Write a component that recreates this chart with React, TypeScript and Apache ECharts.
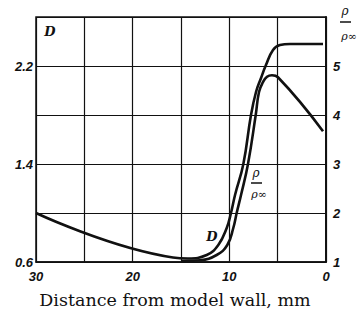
import React, { useEffect, useRef } from "react";
import * as echarts from "echarts";

// Curve D (left axis)
const distD = [30, 15.83, 14.28, 12.34, 11.14, 10.27, 9.83, 9.41, 8.55, 7.76, 7.24, 6.72, 6.21, 5.48, 4.76, 3.72, 0.31];
const valD = [1.0, 0.637, 0.629, 0.657, 0.739, 0.878, 1.0, 1.147, 1.4, 1.8, 1.988, 2.102, 2.208, 2.331, 2.371, 2.38, 2.38];

// Curve rho/rho_inf (right axis)
const distR = [15.0, 13.03, 11.31, 10.21, 9.59, 9.24, 8.79, 8.07, 7.27, 6.93, 6.52, 6.1, 5.59, 4.97, 0.31];
const valR = [1.02, 1.035, 1.143, 1.347, 1.694, 2.0, 2.367, 3.0, 4.0, 4.47, 4.67, 4.78, 4.81, 4.77, 3.67];

const xTickLabels = [0, 10, 20, 30];
const leftTickLabels = [0.6, 1.4, 2.2];
const rightTickLabels = [1, 2, 3, 4, 5];

const tickFont = {
  fontFamily: "'Liberation Sans', sans-serif",
  fontStyle: "italic" as const,
  fontWeight: "bold" as const,
  fontSize: 13,
  color: "#111",
};

const has = (arr: number[], v: number) => arr.some((a) => Math.abs(a - v) < 1e-6);

export default function App() {
  const ref = useRef<HTMLDivElement>(null);
  useEffect(() => {
    if (!ref.current) return;
    const chart = echarts.init(ref.current, undefined, { renderer: "svg" });
    const labelStyle = (text: string, x: number, y: number, size = 13, bold = true) => ({
      type: "text",
      x,
      y,
      style: {
        text,
        fontFamily: "'DejaVu Serif', serif",
        fontStyle: "italic",
        fontWeight: bold ? "bold" : "normal",
        fontSize: size,
        fill: "#111",
        textAlign: "center",
        textVerticalAlign: "middle",
      },
    });
    chart.setOption({
      animation: false,
      backgroundColor: "#fff",
      grid: {
        left: 36,
        right: 36,
        top: 17,
        bottom: 59,
        show: true,
        borderColor: "#111",
        borderWidth: 1.5,
        backgroundColor: "transparent",
      },
      xAxis: {
        type: "value",
        min: 0,
        max: 30,
        interval: 5,
        inverse: true,
        axisLine: { show: true, lineStyle: { color: "#111", width: 1.5 } },
        axisTick: { show: false },
        splitLine: { show: true, lineStyle: { color: "#111", width: 1.2 } },
        axisLabel: {
          ...tickFont,
          margin: 8,
          formatter: (v: number) => (has(xTickLabels, v) ? String(v) : ""),
        },
      },
      yAxis: [
        {
          type: "value",
          min: 0.6,
          max: 2.6,
          interval: 0.4,
          position: "left",
          axisLine: { show: true, lineStyle: { color: "#111", width: 1.5 } },
          axisTick: { show: false },
          splitLine: { show: false },
          axisLabel: {
            ...tickFont,
            margin: 3,
            formatter: (v: number) => (has(leftTickLabels, v) ? v.toFixed(1) : ""),
          },
        },
        {
          type: "value",
          min: 1,
          max: 6,
          interval: 1,
          position: "right",
          axisLine: { show: true, lineStyle: { color: "#111", width: 1.5 } },
          axisTick: { show: false },
          splitLine: { show: true, lineStyle: { color: "#111", width: 1.2 } },
          axisLabel: {
            ...tickFont,
            margin: 7,
            formatter: (v: number) => (has(rightTickLabels, v) ? String(v) : ""),
          },
        },
      ],
      series: [
        {
          name: "D",
          type: "line",
          yAxisIndex: 0,
          smooth: 0.45,
          symbol: "none",
          lineStyle: { color: "#111", width: 2.6 },
          data: distD.map((d, i) => [d, valD[i]]),
        },
        {
          name: "rho",
          type: "line",
          yAxisIndex: 1,
          smooth: 0.45,
          symbol: "none",
          lineStyle: { color: "#111", width: 2.6 },
          data: distR.map((d, i) => [d, valR[i]]),
        },
      ],
      graphic: [
        labelStyle("D", 50, 31),
        labelStyle("D", 212, 236),
        // right-axis title fraction
        labelStyle("ρ", 345, 11, 12, false),
        { type: "line", shape: { x1: 340, y1: 22, x2: 351, y2: 22 }, style: { stroke: "#111", lineWidth: 1.5 } },
        labelStyle("ρ∞", 349, 36, 11, false),
        // curve label fraction
        labelStyle("ρ", 256, 173, 12, false),
        { type: "line", shape: { x1: 251, y1: 183, x2: 262, y2: 183 }, style: { stroke: "#111", lineWidth: 1.5 } },
        labelStyle("ρ∞", 259, 194, 11, false),
        {
          type: "text",
          x: 175,
          y: 300,
          style: {
            text: "Distance from model wall, mm",
            fontFamily: "'DejaVu Serif', serif",
            fontSize: 17.5,
            fill: "#111",
            textAlign: "center",
            textVerticalAlign: "middle",
          },
        },
      ],
    });
    return () => chart.dispose();
  }, []);
  return <div ref={ref} style={{ width: 362, height: 321, position: "fixed", left: 0, top: 0 }} />;
}
